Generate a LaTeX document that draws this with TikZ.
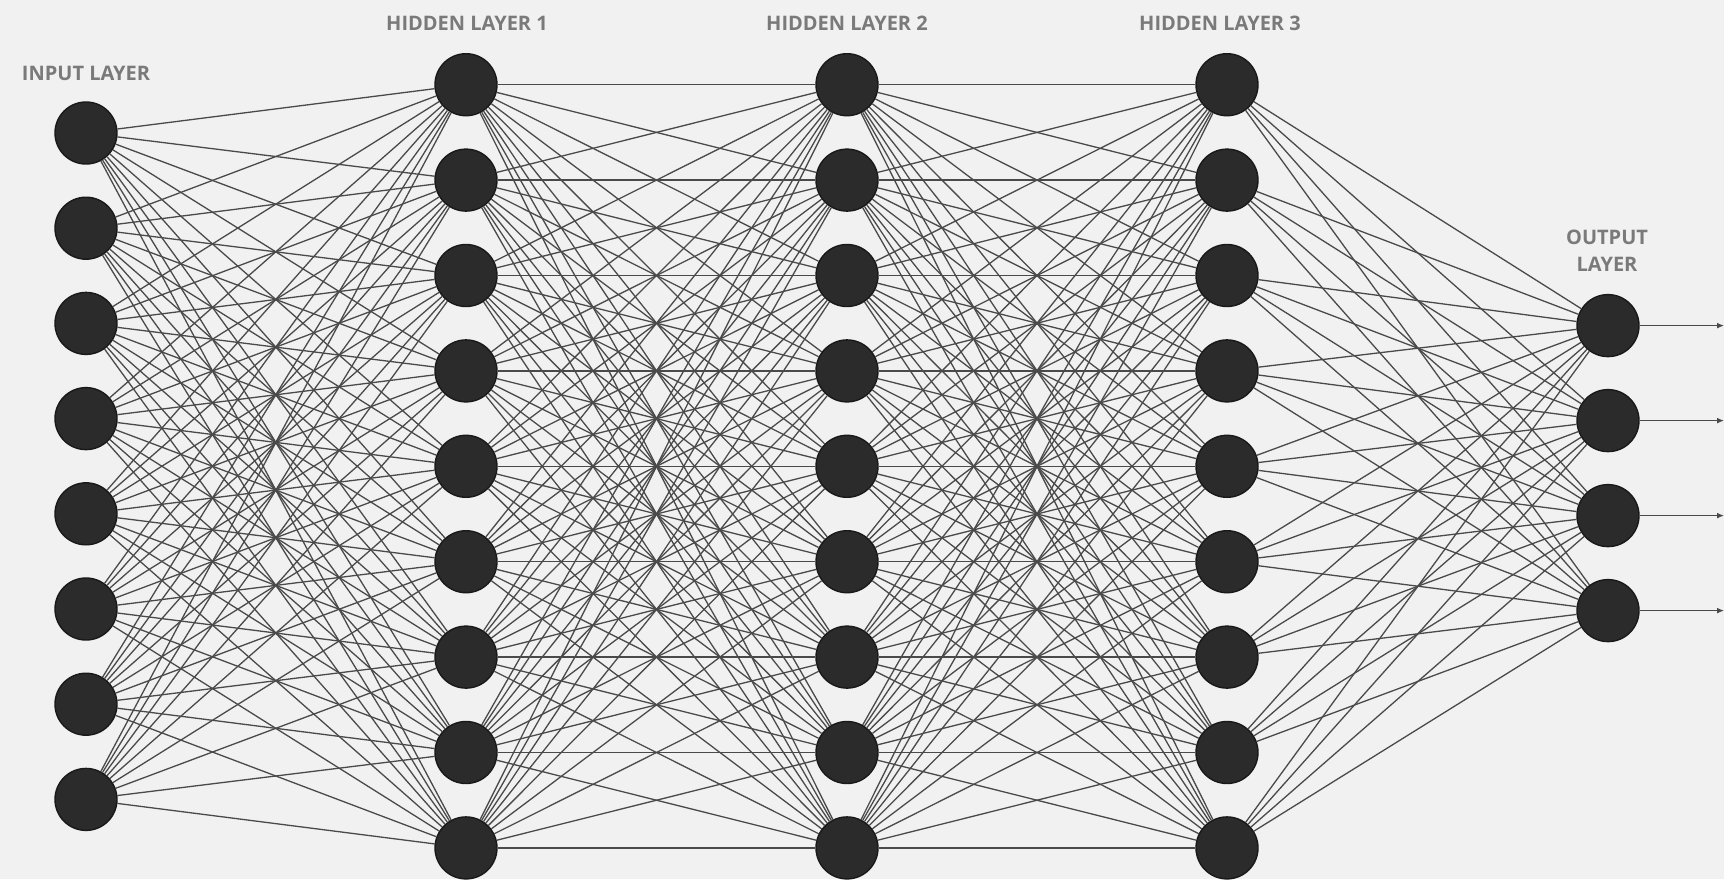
\documentclass[tikz,border=0pt]{standalone}
\usepackage{fontspec}
\setmainfont{Open Sans}
\usepackage{xcolor}
\usepackage{tikz}
\usetikzlibrary{arrows.meta,positioning}

\definecolor{paper}{HTML}{F1F1F1}
\definecolor{cell}{HTML}{2B2B2B}
\definecolor{wire}{HTML}{4A4A4A}
\definecolor{caption}{HTML}{7A7A7A}

\begin{document}
\begin{tikzpicture}[
    x=1pt, y=-1pt,
    >=Latex,
    neuron/.style={circle, draw=black!90, line width=1.4pt, fill=cell,
                   minimum size=62pt, inner sep=0pt},
    link/.style={draw=wire, line width=1.3pt},
    layername/.style={font=\fontsize{20}{27}\selectfont\bfseries, text=caption,
                      align=center}
]
    \fill[paper] (0,0) rectangle (1724,879);
    \useasboundingbox (0,0) rectangle (1724,879);

    % neurons
    \foreach \i in {1,...,8}
        \node[neuron] (in\i) at (86, 37.8+95.2*\i) {};
    \foreach \l/\x in {1/466, 2/847, 3/1227}
        \foreach \i in {1,...,9}
            \node[neuron] (h\l-\i) at (\x, -10.7+95.4*\i) {};
    \foreach \i in {1,...,4}
        \node[neuron] (out\i) at (1608, 230.6+95.0*\i) {};

    % layer names
    \node[layername] (lin)  at (86, 73)   {INPUT LAYER};
    \node[layername] (lh1)  at (467, 23)  {HIDDEN LAYER 1};
    \node[layername] (lh2)  at (847, 23)  {HIDDEN LAYER 2};
    \node[layername] (lh3)  at (1220, 23) {HIDDEN LAYER 3};
    \node[layername] (lout) at (1607, 251) {OUTPUT\\LAYER};

    % weights
    \foreach \i in {1,...,8}
        \foreach \j in {1,...,9}
            \draw[link] (in\i) -- (h1-\j);
    \foreach \i in {1,...,9}
        \foreach \j in {1,...,9} {
            \draw[link] (h1-\i) -- (h2-\j);
            \draw[link] (h2-\i) -- (h3-\j);
        }
    \foreach \i in {1,...,9}
        \foreach \j in {1,...,4}
            \draw[link] (h3-\i) -- (out\j);

    % outputs
    \foreach \i in {1,...,4} {
        \coordinate (y\i) at (1724, 230.6+95.0*\i);
        \draw[link, -{Latex[length=7pt, width=6pt]}] (out\i) -- (y\i);
    }
\end{tikzpicture}
\end{document}
